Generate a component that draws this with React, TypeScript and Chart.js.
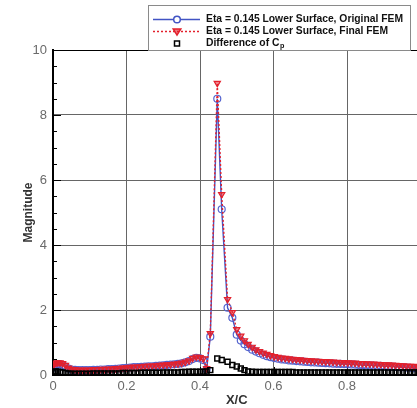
import { useEffect, useRef } from 'react';
import { Chart, registerables } from 'chart.js';

Chart.register(...registerables);

const xPositions = [
  0.0, 0.004, 0.008, 0.013, 0.019, 0.026, 0.034, 0.042, 0.05, 0.06,
  0.07, 0.08, 0.09, 0.1, 0.11, 0.12, 0.13, 0.14, 0.15, 0.16,
  0.17, 0.18, 0.19, 0.2, 0.21, 0.22, 0.23, 0.24, 0.25, 0.26,
  0.27, 0.28, 0.29, 0.3, 0.31, 0.32, 0.33, 0.34, 0.35, 0.36,
  0.37, 0.38, 0.39, 0.4, 0.409, 0.418, 0.428, 0.447, 0.459, 0.475,
  0.488, 0.5, 0.511, 0.521, 0.531, 0.542, 0.552, 0.562, 0.572, 0.582,
  0.592, 0.602, 0.612, 0.622, 0.632, 0.642, 0.652, 0.662, 0.672, 0.682,
  0.692, 0.702, 0.712, 0.722, 0.732, 0.742, 0.752, 0.762, 0.772, 0.782,
  0.792, 0.802, 0.812, 0.822, 0.832, 0.842, 0.852, 0.862, 0.872, 0.882,
  0.892, 0.902, 0.912, 0.922, 0.932, 0.942, 0.952, 0.962, 0.972, 0.982,
  0.992, 1.0,
];

const originalFEM = [
  0.22, 0.27, 0.31, 0.33, 0.33, 0.31, 0.26, 0.2, 0.17, 0.16,
  0.15, 0.15, 0.15, 0.15, 0.16, 0.16, 0.17, 0.17, 0.18, 0.18,
  0.19, 0.2, 0.21, 0.22, 0.23, 0.24, 0.24, 0.25, 0.26, 0.27,
  0.27, 0.28, 0.29, 0.3, 0.31, 0.32, 0.33, 0.34, 0.36, 0.39,
  0.43, 0.49, 0.53, 0.51, 0.46, 0.17, 1.18, 8.5, 5.1, 2.07,
  1.76, 1.24, 1.06, 0.95, 0.86, 0.78, 0.72, 0.67, 0.62, 0.58,
  0.55, 0.52, 0.5, 0.48, 0.47, 0.45, 0.44, 0.43, 0.42, 0.41,
  0.4, 0.39, 0.385, 0.38, 0.37, 0.365, 0.36, 0.35, 0.345, 0.34,
  0.335, 0.33, 0.325, 0.32, 0.31, 0.305, 0.3, 0.295, 0.29, 0.285,
  0.28, 0.27, 0.265, 0.26, 0.25, 0.245, 0.24, 0.23, 0.22, 0.21,
  0.2, 0.19,
];

const finalFEM = [
  0.3, 0.35, 0.37, 0.38, 0.38, 0.36, 0.3, 0.22, 0.18, 0.17,
  0.16, 0.16, 0.16, 0.16, 0.17, 0.17, 0.18, 0.18, 0.19, 0.19,
  0.2, 0.21, 0.22, 0.23, 0.24, 0.25, 0.25, 0.26, 0.27, 0.28,
  0.28, 0.29, 0.3, 0.31, 0.32, 0.33, 0.34, 0.35, 0.37, 0.4,
  0.44, 0.52, 0.56, 0.54, 0.5, 0.2, 1.28, 8.98, 5.56, 2.33,
  1.93, 1.4, 1.2, 1.06, 0.95, 0.86, 0.78, 0.73, 0.68, 0.64,
  0.6, 0.57, 0.55, 0.53, 0.52, 0.5, 0.49, 0.48, 0.47, 0.46,
  0.45, 0.44, 0.435, 0.43, 0.42, 0.415, 0.41, 0.4, 0.395, 0.39,
  0.385, 0.38, 0.375, 0.37, 0.36, 0.355, 0.35, 0.345, 0.34, 0.335,
  0.33, 0.32, 0.315, 0.31, 0.3, 0.295, 0.29, 0.28, 0.275, 0.27,
  0.26, 0.255,
];

const differenceCp = [
  0.08, 0.1, 0.11, 0.1, 0.09, 0.08, 0.06, 0.05, 0.04, 0.04,
  0.04, 0.04, 0.04, 0.04, 0.05, 0.05, 0.05, 0.05, 0.05, 0.05,
  0.05, 0.05, 0.06, 0.06, 0.06, 0.06, 0.06, 0.07, 0.07, 0.07,
  0.07, 0.07, 0.07, 0.08, 0.08, 0.08, 0.08, 0.08, 0.09, 0.09,
  0.1, 0.1, 0.1, 0.1, 0.1, 0.11, 0.15, 0.51, 0.46, 0.41,
  0.31, 0.26, 0.2, 0.15, 0.11, 0.1, 0.09, 0.09, 0.09, 0.09,
  0.09, 0.09, 0.09, 0.09, 0.09, 0.09, 0.09, 0.08, 0.08, 0.08,
  0.08, 0.08, 0.08, 0.08, 0.08, 0.08, 0.08, 0.08, 0.08, 0.08,
  0.08, 0.08, 0.08, 0.08, 0.08, 0.08, 0.08, 0.08, 0.08, 0.08,
  0.08, 0.08, 0.08, 0.08, 0.08, 0.08, 0.08, 0.08, 0.08, 0.08,
  0.08, 0.08,
];

const seriesLabels = [
  'Eta = 0.145 Lower Surface, Original FEM',
  'Eta = 0.145 Lower Surface, Final FEM',
  'Difference of C',
];
const xAxisTitle = 'X/C';
const yAxisTitle = 'Magnitude';

const BLUE = '#4254c4';
const RED = '#e3202c';

const toPoints = (ys: number[]) => xPositions.map((x, i) => ({ x, y: ys[i] }));

const frameTicksPlugin = {
  id: 'frameTicks',
  beforeDatasetsDraw(chart: any) {
    const { ctx, chartArea, scales } = chart;
    const ys = scales.y;
    const xs = scales.x;
    ctx.save();
    ctx.strokeStyle = '#000';
    ctx.lineWidth = 1;
    ctx.beginPath();
    ctx.moveTo(chartArea.left, chartArea.top + 0.5);
    ctx.lineTo(chartArea.right, chartArea.top + 0.5);
    ctx.stroke();
    for (let v = 0; v <= 10.001; v += 0.5) {
      const py = Math.round(ys.getPixelForValue(v)) + 0.5;
      const major = Math.abs(v / 2 - Math.round(v / 2)) < 1e-6;
      ctx.beginPath();
      ctx.moveTo(chartArea.left, py);
      ctx.lineTo(chartArea.left + (major ? 8 : 4), py);
      ctx.stroke();
    }
    for (let v = 0; v <= 1.0001; v += 0.2) {
      const px = Math.round(xs.getPixelForValue(v)) + 0.5;
      ctx.beginPath();
      ctx.moveTo(px, chartArea.bottom);
      ctx.lineTo(px, chartArea.bottom - 8);
      ctx.stroke();
    }
    ctx.restore();
  },
};

const boxLegendPlugin = {
  id: 'boxLegend',
  afterDraw(chart: any) {
    const ctx = chart.ctx;
    ctx.save();
    const bx = 148, by = 5, bw = 262, bh = 45;
    ctx.fillStyle = '#fff';
    ctx.fillRect(bx, by, bw, bh);
    ctx.strokeStyle = '#8a8a8a';
    ctx.lineWidth = 1;
    ctx.strokeRect(bx + 0.5, by + 0.5, bw, bh);

    const rowsY = [19.5, 31.5, 43.5];
    const lx0 = 153, lx1 = 200, mx = 177, tx = 206;

    ctx.strokeStyle = BLUE;
    ctx.lineWidth = 1.5;
    ctx.setLineDash([]);
    ctx.beginPath();
    ctx.moveTo(lx0, rowsY[0]);
    ctx.lineTo(lx1, rowsY[0]);
    ctx.stroke();
    ctx.fillStyle = '#fff';
    ctx.beginPath();
    ctx.arc(mx, rowsY[0], 3.3, 0, Math.PI * 2);
    ctx.fill();
    ctx.stroke();

    ctx.strokeStyle = RED;
    ctx.setLineDash([2, 2]);
    ctx.beginPath();
    ctx.moveTo(lx0, rowsY[1]);
    ctx.lineTo(lx1, rowsY[1]);
    ctx.stroke();
    ctx.setLineDash([]);
    ctx.fillStyle = 'rgba(227,32,44,0.6)';
    ctx.beginPath();
    ctx.moveTo(mx - 3.8, rowsY[1] - 2.6);
    ctx.lineTo(mx + 3.8, rowsY[1] - 2.6);
    ctx.lineTo(mx, rowsY[1] + 3.6);
    ctx.closePath();
    ctx.fill();
    ctx.stroke();

    ctx.strokeStyle = '#000';
    ctx.lineWidth = 1.5;
    ctx.strokeRect(mx - 2.5, rowsY[2] - 2.5, 5, 5);

    ctx.fillStyle = '#111';
    ctx.textBaseline = 'middle';
    ctx.textAlign = 'left';
    ctx.font = 'bold 10px "Liberation Sans", Arial, sans-serif';
    const targetW = 197;
    const w0 = ctx.measureText(seriesLabels[0]).width;
    const sx = targetW / w0;
    for (let i = 0; i < 3; i++) {
      ctx.save();
      ctx.translate(tx, rowsY[i]);
      ctx.scale(sx, 1);
      ctx.fillText(seriesLabels[i], 0, 0);
      if (i === 2) {
        const w = ctx.measureText(seriesLabels[i]).width;
        ctx.font = 'bold 7px "Liberation Sans", Arial, sans-serif';
        ctx.fillText('p', w + 0.5, 3);
      }
      ctx.restore();
    }
    ctx.restore();
  },
};

export default function App() {
  const canvasRef = useRef<HTMLCanvasElement | null>(null);

  useEffect(() => {
    const canvas = canvasRef.current;
    if (!canvas) return;
    const chart = new Chart(canvas, {
      type: 'scatter',
      data: {
        datasets: [
          {
            label: seriesLabels[0],
            data: toPoints(originalFEM),
            showLine: true,
            borderColor: BLUE,
            borderWidth: 1.4,
            pointStyle: 'circle',
            pointRadius: 3.5,
            pointBorderWidth: 1.2,
            pointBorderColor: '#5464cf',
            pointBackgroundColor: 'rgba(255,255,255,0)',
            order: 3,
          },
          {
            label: seriesLabels[1],
            data: toPoints(finalFEM),
            showLine: true,
            borderColor: RED,
            borderWidth: 1.4,
            borderDash: [2, 2],
            pointStyle: 'triangle',
            rotation: 180,
            pointRadius: 3.6,
            pointBorderWidth: 1.2,
            pointBorderColor: RED,
            pointBackgroundColor: 'rgba(227,32,44,0.55)',
            order: 2,
          },
          {
            label: seriesLabels[2] + 'p',
            data: toPoints(differenceCp),
            showLine: false,
            pointStyle: 'rect',
            pointRadius: 3.5,
            pointBorderWidth: 1.5,
            pointBorderColor: '#000',
            pointBackgroundColor: 'rgba(255,255,255,0)',
            order: 1,
          },
        ],
      },
      options: {
        responsive: false,
        animation: false,
        devicePixelRatio: 1,
        layout: { padding: { left: 0, top: 50, right: 19.5, bottom: 0 } },
        plugins: {
          legend: { display: false },
          tooltip: { enabled: false },
        },
        scales: {
          x: {
            type: 'linear',
            min: 0,
            max: 1,
            afterFit: (s: any) => { s.height = 33; },
            ticks: {
              stepSize: 0.2,
              color: '#6a6a6a',
              padding: 4,
              font: { size: 13, family: '"Liberation Sans", Arial, sans-serif' },
              callback: (v: any) => (Number(v) >= 1 ? '' : String(Math.round(Number(v) * 10) / 10)),
            },
            grid: {
              drawTicks: false,
              color: (c: any) => (c.tick && (c.tick.value === 0 || c.tick.value === 1) ? 'rgba(0,0,0,0)' : '#666'),
              lineWidth: 1,
            },
            border: { display: true, color: '#000', width: 2 },
            title: {
              display: true,
              text: xAxisTitle,
              color: '#333',
              padding: { top: 0, bottom: 0 },
              font: { size: 13, weight: 'bold', family: '"Liberation Sans", Arial, sans-serif' },
            },
          },
          y: {
            type: 'linear',
            min: 0,
            max: 10,
            afterFit: (s: any) => { s.width = 53; },
            ticks: {
              stepSize: 2,
              color: '#6a6a6a',
              padding: 6,
              font: { size: 13, family: '"Liberation Sans", Arial, sans-serif' },
            },
            grid: {
              drawTicks: false,
              color: (c: any) => (c.tick && (c.tick.value === 0 || c.tick.value === 10) ? 'rgba(0,0,0,0)' : '#666'),
              lineWidth: 1,
            },
            border: { display: true, color: '#000', width: 2 },
            title: {
              display: true,
              text: yAxisTitle,
              color: '#333',
              padding: { top: 21, bottom: 0 },
              font: { size: 12, weight: 'bold', family: '"Liberation Sans", Arial, sans-serif' },
            },
          },
        },
      },
      plugins: [frameTicksPlugin, boxLegendPlugin],
    });
    return () => chart.destroy();
  }, []);

  return (
    <div style={{ position: 'fixed', left: 0, top: 0, width: 417, height: 408, overflow: 'hidden', background: '#fff' }}>
      <canvas ref={canvasRef} width={440} height={408} style={{ width: 440, height: 408, display: 'block' }} />
    </div>
  );
}
